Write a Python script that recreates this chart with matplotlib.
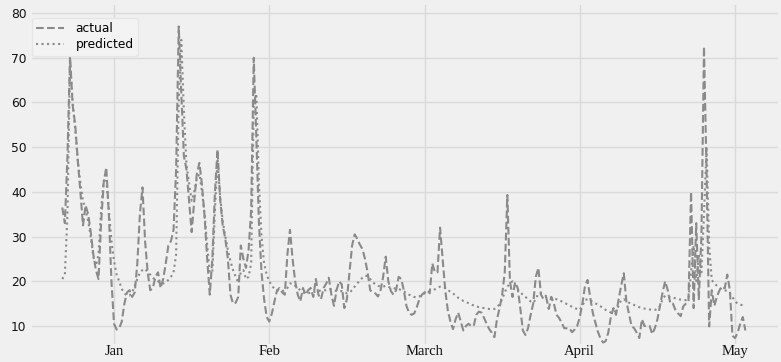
import numpy as np
import matplotlib
matplotlib.use("Agg")
import matplotlib.pyplot as plt

# half-day samples
actual = [
    36.5, 33, 48, 70.5, 59.5, 55, 47, 40, 32.5, 37,
    35, 31, 26, 22.5, 20.5, 33, 42, 45.5, 35, 20,
    10.5, 9.2, 9.5, 11, 15, 17.5, 18, 16.5, 17.5, 24,
    35, 41, 29, 22, 18, 18.5, 21, 22, 18.5, 20.5,
    24, 28, 29, 31.5, 45, 77, 62, 48, 45, 38,
    31, 38, 44, 46.5, 41.5, 34.5, 25, 17, 25, 40,
    49.5, 38.5, 32.5, 29.5, 25, 17, 15, 15.2, 16.5, 28,
    25, 23, 27, 36, 70, 52, 33, 22, 16, 12,
    11, 12.8, 15.5, 18, 18.5, 17.5, 17, 26, 31.5, 25,
    20, 17, 15.5, 18.5, 17, 18, 18.5, 16.5, 20.5, 17,
    16, 18.5, 19.5, 20.8, 17, 14.5, 18, 20, 19.3, 14,
    16, 22, 28, 30.5, 29.5, 28.2, 27.2, 25, 22, 18,
    17.5, 17.3, 16.6, 18, 21, 25.5, 20, 17.8, 17, 18,
    21, 20.5, 18, 14.5, 13, 12.5, 12.8, 14.2, 16, 17,
    17.5, 18, 17.3, 24, 22, 22, 32, 25, 18, 13.5,
    11, 9.3, 11.5, 13, 11, 9, 10, 10.5, 10, 10,
    12.5, 13.2, 13, 11.8, 10.5, 9.3, 8.5, 7.5, 11.5, 14,
    17, 22, 39.3, 20, 16.5, 19.8, 18.5, 14, 9, 8,
    9.5, 12.5, 15, 21, 23, 17, 16, 16.5, 13.8, 16.5,
    15, 12.5, 11.8, 10.7, 9.5, 9.5, 9.5, 8.6, 9.2, 10,
    12, 15, 18.9, 20.3, 16.5, 13, 10.8, 8.7, 7.2, 6.3,
    6.6, 8.5, 12, 14, 12.5, 16, 19, 21.8, 15.5, 12.8,
    10, 9.5, 8.5, 7.3, 11.5, 10, 10, 10, 8.2, 9.5,
    11.5, 14.5, 17.5, 20, 18, 15, 15, 13.5, 12.8, 12.2,
    14.4, 15, 15.5, 40, 14, 33, 16, 30, 72.5, 44,
    9.9, 18, 14.5, 16.6, 18, 18.8, 18.4, 21.5, 18, 7.8,
    7.3, 8.5, 10.5, 12, 9,
]

predicted = [
    20.5, 21.5, 35, 69, 60, 54, 47, 42, 38, 36,
    33.5, 30, 25.5, 23.5, 26, 36, 42.5, 43, 36, 29,
    24.5, 21.5, 20, 18.3, 17.3, 16.8, 16.8, 17.5, 19, 20.5,
    22, 22.5, 22.8, 22, 21.5, 20.8, 20.3, 20, 19.6, 19.5,
    19.8, 20.3, 21, 22, 26, 60, 74, 58, 46, 42,
    38, 40, 43, 44, 40, 35, 28, 22, 22, 36,
    47, 39, 33.5, 30, 27, 24.5, 22.5, 21, 19.8, 22,
    22.5, 20.5, 21, 24, 60, 62, 42, 30, 24, 21.5,
    20, 19, 18.3, 18, 17.8, 17.8, 18, 18.5, 19.5, 19.5,
    19, 18.5, 18, 17.5, 17.3, 17.3, 17.5, 17.5, 17.8, 17.8,
    18, 18, 18, 18.2, 18.2, 18, 17.8, 17.8, 17.8, 17.5,
    17.3, 17.5, 18, 18.8, 19.5, 20.2, 20.8, 21.2, 21.2, 20.5,
    19.8, 19.3, 19, 18.8, 18.8, 19, 18.8, 18.5, 18.5, 18.3,
    18.3, 18, 17.8, 17.3, 17, 16.8, 16.5, 16.4, 16.6, 17,
    17.3, 17.5, 17.8, 18, 18.2, 18.5, 18.8, 18.8, 18.5, 18,
    17.7, 17.3, 16.8, 16.3, 16, 15.6, 15.4, 15.1, 14.8, 14.6,
    14.4, 14.2, 14.1, 14, 13.9, 13.8, 13.8, 13.8, 14.2, 14.9,
    16, 17.5, 18.8, 19.5, 20, 19, 18.2, 17.5, 17, 16.5,
    16, 15.5, 15.2, 16, 17.3, 17.3, 17, 16.7, 16.5, 16.3,
    16.1, 16, 15.8, 15.5, 15.2, 14.9, 14.6, 14.3, 14, 13.8,
    13.6, 14.5, 15.8, 16, 15.7, 15.4, 15.1, 14.7, 14.4, 14,
    13.6, 13.3, 13, 12.9, 13.5, 14.5, 15.8, 16, 15.6, 15.2,
    15, 14.7, 14.4, 14.2, 14, 13.9, 13.8, 13.7, 13.6, 13.6,
    13.8, 14.5, 16, 16.8, 16.6, 16.4, 16.3, 16.2, 16, 15.9,
    15.8, 15.8, 16, 22, 28, 20, 26, 22, 35, 50,
    28, 20.3, 19.5, 19, 18.5, 18.2, 18, 17.8, 17.3, 16.5,
    15.5, 15, 14.8, 14.6, 14.4,
]

month_ticks = [20, 80, 140, 200, 260]
month_labels = ["Jan", "Feb", "March", "April", "May"]
y_ticks = [10, 20, 30, 40, 50, 60, 70, 80]

W, H = 781, 362
fig = plt.figure(figsize=(W / 100, H / 100), dpi=100, facecolor="#f0f0f0")
ax = fig.add_axes([32 / W, (H - 344) / H, (778 - 32) / W, (344 - 5) / H])
ax.set_facecolor("#f0f0f0")

x_a = np.arange(len(actual))
x_p = np.arange(len(predicted))
ax.plot(x_a, actual, linestyle="--", color="#8a8a8a", linewidth=1.5, label="actual")
ax.plot(x_p, predicted, linestyle=":", color="#8a8a8a", linewidth=1.5, label="predicted")

ax.set_xlim(-11.7, 276.6)
ax.set_ylim(5.97, 81.8)
ax.set_yticks(y_ticks)
ax.set_xticks(month_ticks)
ax.set_xticklabels(month_labels, family="Liberation Serif", fontsize=10.5, color="#111111")
for lab in ax.get_yticklabels():
    lab.set_family("DejaVu Sans")
    lab.set_fontsize(8.8)
    lab.set_color("#111111")
ax.tick_params(axis="both", length=0)
ax.tick_params(axis="x", pad=1)
ax.tick_params(axis="y", pad=4)

ax.grid(True, color="#dadada", linewidth=1.0)
ax.set_axisbelow(True)
for s in ax.spines.values():
    s.set_visible(False)

leg = ax.legend(loc="upper left", bbox_to_anchor=(0.0, 1 - 13 / 339),
                borderaxespad=0.0, fontsize=8.8, frameon=True, fancybox=True,
                handlelength=2.3, handletextpad=0.9, labelspacing=0.25,
                borderpad=0.35)
leg.get_frame().set_facecolor("#f3f3f3")
leg.get_frame().set_edgecolor("#e6e6e6")
leg.get_frame().set_alpha(1.0)

fig.savefig("out.png", dpi=100, facecolor=fig.get_facecolor())
